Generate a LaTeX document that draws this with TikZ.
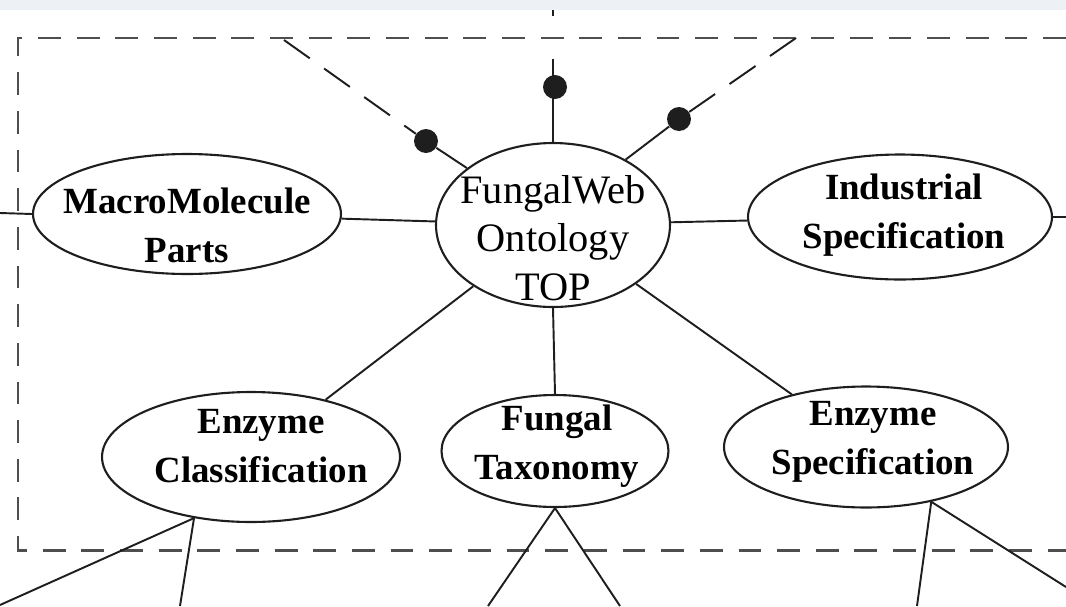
\documentclass[tikz,border=0pt]{standalone}
\usepackage{fontspec}
\setmainfont{Liberation Serif}
\usetikzlibrary{shapes.geometric}
\definecolor{ink}{HTML}{1E1E1E}
\definecolor{rim}{HTML}{4E4E4E}
\definecolor{haze}{HTML}{EDF1F5}

\begin{document}
\begin{tikzpicture}[
    x=0.02cm,
    y=-0.02cm,
    oval/.style={
        draw=ink,
        line width=1.2pt,
        ellipse,
        inner sep=0pt
    },
    lbl/.style={
        align=center,
        inner sep=0pt,
        font=\fontsize{21}{28}\selectfont\bfseries
    },
    toplbl/.style={
        align=center,
        inner sep=0pt,
        font=\fontsize{23}{27.5}\selectfont
    },
    blob/.style={
        circle,
        fill=ink,
        inner sep=0pt,
        minimum size=0.48cm
    },
    link/.style={
        draw=ink,
        line width=1.1pt
    },
    dashlink/.style={
        draw=ink,
        line width=1.1pt,
        dash pattern=on 18pt off 10pt
    },
    boxframe/.style={
        draw=rim,
        line width=1.7pt,
        dash pattern=on 13pt off 9pt
    }
]

\useasboundingbox (0,0) rectangle (1066,606);
\fill[haze] (0,0) rectangle (1066,10);

\draw[boxframe] (1066,38) -| (18,550) -- (1066,550);

\node[oval,minimum width=4.68cm,minimum height=3.28cm] (top) at (553,225) {};
\node[oval,minimum width=6.16cm,minimum height=2.40cm] (macro) at (187,214) {};
\node[oval,minimum width=6.08cm,minimum height=2.50cm] (indus) at (900,217) {};
\node[oval,minimum width=5.96cm,minimum height=2.60cm] (eclass) at (251,457) {};
\node[oval,minimum width=4.54cm,minimum height=2.24cm] (taxo) at (555,451) {};
\node[oval,minimum width=5.68cm,minimum height=2.42cm] (espec) at (866,447) {};

\node[toplbl] (top-t) at (553,238) {FungalWeb\\Ontology\\TOP};
\node[lbl] (macro-t) at (187,225) {MacroMolecule\\Parts};
\node[lbl] (indus-t) at (904,215) {Industrial\\Specification};
\node[lbl] (eclass-t) at (261,446) {Enzyme\\Classification};
\node[lbl] (taxo-t) at (557,446) {Fungal\\Taxonomy};
\node[lbl] (espec-t) at (873,442) {Enzyme\\Specification};

\node[blob] (dotL) at (426,141) {};
\node[blob] (dotM) at (555,87) {};
\node[blob] (dotR) at (679,119) {};

\coordinate (tl) at (284,40);
\coordinate (tm) at (553,10);
\coordinate (tr) at (796,38);
\coordinate (lft) at (0,213);
\coordinate (rgt) at (1066,217);
\coordinate (bl1) at (0,605);
\coordinate (bl2) at (180,606);
\coordinate (bm1) at (488,606);
\coordinate (bm2) at (620,606);
\coordinate (br1) at (917,606);
\coordinate (br2) at (1066,587);

\draw[dashlink] (tl) -- (dotL);
\draw[link] (dotL) -- (top);
\draw[link,dash pattern=on 3.4pt off 24.4pt on 80pt] (tm) -- (tm |- dotM);
\draw[link] (tm |- dotM) -- (top);
\draw[dashlink] (tr) -- (dotR);
\draw[link] (dotR) -- (top.42);

\draw[link] (lft) -- (macro.west);
\draw[link] (macro) -- (top);
\draw[link] (top) -- (indus);
\draw[link] (indus.east) -- (rgt);

\draw[link] (top) -- (eclass);
\draw[link] (top.south) -- (taxo.north);
\draw[link] (top) -- (espec);

\draw[link] (eclass.227) -- (bl1);
\draw[link] (eclass.227) -- (bl2);
\draw[link] (taxo.south) -- (bm1);
\draw[link] (taxo.south) -- (bm2);
\draw[link] (espec.320) -- (br1);
\draw[link] (espec.320) -- (br2);

\end{tikzpicture}
\end{document}
